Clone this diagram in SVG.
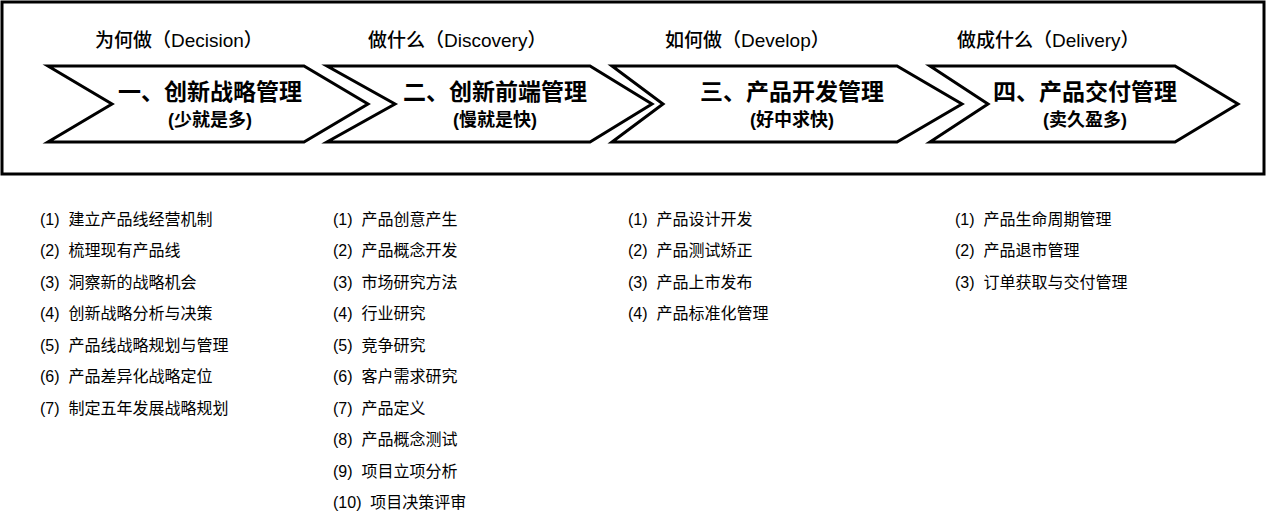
<svg xmlns="http://www.w3.org/2000/svg" width="1268" height="524" viewBox="0 0 1268 524">
<style>
text{font-family:"Liberation Sans","Noto Sans CJK SC",sans-serif;fill:#000;white-space:pre}
.h{font-size:19px;font-weight:500}
.t{font-size:23px;font-weight:bold;text-anchor:middle}
.s{font-size:18px;font-weight:bold;text-anchor:middle}
.l{font-size:16px}
.c{fill:#fff;stroke:#000;stroke-width:3;stroke-linejoin:miter}
</style>
<rect x="2" y="2" width="1262" height="172" fill="#fff" stroke="#000" stroke-width="3"/>
<text class="h" x="95" y="47">为何做（Decision）</text>
<text class="h" x="368" y="47">做什么（Discovery）</text>
<text class="h" x="665" y="47">如何做（Develop）</text>
<text class="h" x="957" y="47">做成什么（Delivery）</text>
<g id="n1"><polygon class="c" points="48,66 304,66 368,104 304,142 48,142 112,104"/>
<text class="t" x="210" y="100">一、创新战略管理</text><text class="s" x="210" y="126">(少就是多)</text></g>
<g id="n2"><polygon class="c" points="327,66 590,66 652,104 590,142 327,142 395,104"/>
<text class="t" x="495" y="100">二、创新前端管理</text><text class="s" x="495" y="126">(慢就是快)</text></g>
<g id="n3"><polygon class="c" points="612,66 897,66 962,104 897,142 612,142 663,104"/>
<text class="t" x="792" y="100">三、产品开发管理</text><text class="s" x="792" y="126">(好中求快)</text></g>
<g id="n4"><polygon class="c" points="930,66 1175,66 1238,104 1175,142 930,142 988,104"/>
<text class="t" x="1085" y="100">四、产品交付管理</text><text class="s" x="1085" y="126">(卖久盈多)</text></g>
<g id="connectors"/>
<g id="list1">
<text class="l" x="40" y="225">(1)  建立产品线经营机制</text>
<text class="l" x="40" y="256">(2)  梳理现有产品线</text>
<text class="l" x="40" y="288">(3)  洞察新的战略机会</text>
<text class="l" x="40" y="319">(4)  创新战略分析与决策</text>
<text class="l" x="40" y="351">(5)  产品线战略规划与管理</text>
<text class="l" x="40" y="382">(6)  产品差异化战略定位</text>
<text class="l" x="40" y="414">(7)  制定五年发展战略规划</text>
</g>
<g id="list2">
<text class="l" x="333" y="225">(1)  产品创意产生</text>
<text class="l" x="333" y="256">(2)  产品概念开发</text>
<text class="l" x="333" y="288">(3)  市场研究方法</text>
<text class="l" x="333" y="319">(4)  行业研究</text>
<text class="l" x="333" y="351">(5)  竞争研究</text>
<text class="l" x="333" y="382">(6)  客户需求研究</text>
<text class="l" x="333" y="414">(7)  产品定义</text>
<text class="l" x="333" y="445">(8)  产品概念测试</text>
<text class="l" x="333" y="477">(9)  项目立项分析</text>
<text class="l" x="333" y="508">(10)  项目决策评审</text>
</g>
<g id="list3">
<text class="l" x="628" y="225">(1)  产品设计开发</text>
<text class="l" x="628" y="256">(2)  产品测试矫正</text>
<text class="l" x="628" y="288">(3)  产品上市发布</text>
<text class="l" x="628" y="319">(4)  产品标准化管理</text>
</g>
<g id="list4">
<text class="l" x="955" y="225">(1)  产品生命周期管理</text>
<text class="l" x="955" y="256">(2)  产品退市管理</text>
<text class="l" x="955" y="288">(3)  订单获取与交付管理</text>
</g>
</svg>
